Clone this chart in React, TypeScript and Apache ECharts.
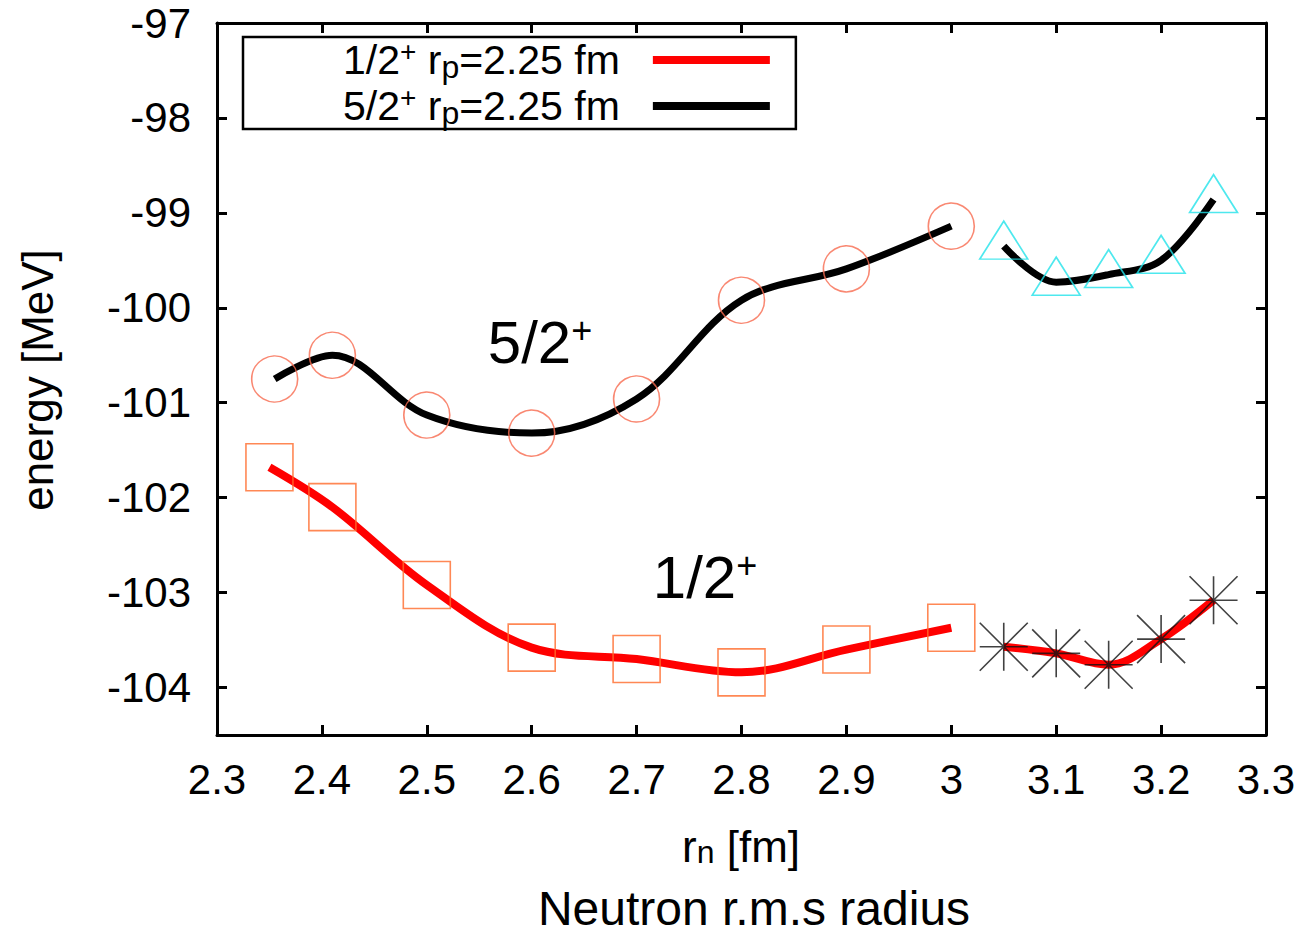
import React, { useEffect, useRef } from "react";
import * as echarts from "echarts";

// ---- data ----
const xTicks = [2.3, 2.4, 2.5, 2.6, 2.7, 2.8, 2.9, 3.0, 3.1, 3.2, 3.3];
const yTicks = [-104, -103, -102, -101, -100, -99, -98, -97];

// 1/2+ : squares (r_n <= 3.0) and asterisks (r_n > 3.0)
const xHalfA = [2.35, 2.41, 2.5, 2.6, 2.7, 2.8, 2.9, 3.0];
const eHalfA = [-101.68, -102.1, -102.92, -103.58, -103.7, -103.84, -103.6, -103.37];
const xHalfB = [3.05, 3.1, 3.15, 3.2, 3.25];
const eHalfB = [-103.57, -103.64, -103.76, -103.49, -103.08];

// 5/2+ : circles (r_n <= 3.0) and triangles (r_n > 3.0)
const xFiveA = [2.355, 2.41, 2.5, 2.6, 2.7, 2.8, 2.9, 3.0];
const eFiveA = [-100.75, -100.5, -101.13, -101.32, -100.96, -99.92, -99.59, -99.14];
const xFiveB = [3.05, 3.1, 3.15, 3.2, 3.25];
const eFiveB = [-99.35, -99.73, -99.65, -99.5, -98.86];

const HALF = "half";
const FIVE = "five";

const FONT = "'Liberation Sans', Arial, Helvetica, sans-serif";

const pairs = (xs: number[], ys: number[]) => xs.map((x, i) => [x, ys[i]]);

const ASTERISK = "path://M0,12L24,12M12,0L12,24M0,0L24,24M24,0L0,24";

export default function App() {
  const ref = useRef<HTMLDivElement>(null);

  useEffect(() => {
    if (!ref.current) return;
    const chart = echarts.init(ref.current, undefined, { renderer: "svg" });

    const axisLine = { show: true, lineStyle: { color: "#000", width: 3 } };
    const tickStyle = { color: "#000", width: 3 };

    const labelRich = {
      n: { fontSize: 41, lineHeight: 46, fontFamily: FONT, color: "#000" },
      sup: { fontSize: 28, lineHeight: 30, fontFamily: FONT, color: "#000", verticalAlign: "top" },
      sub: { fontSize: 32, lineHeight: 34, fontFamily: FONT, color: "#000", verticalAlign: "bottom" },
      end: { fontSize: 41, lineHeight: 46, fontFamily: FONT, color: "#000", padding: [0, 28, 0, 0] },
    };

    const option: any = {
      animation: false,
      grid: { left: 217, right: 42, top: 23, bottom: 198 },
      xAxis: [
        {
          type: "value",
          min: 2.3,
          max: 3.3,
          position: "bottom",
          axisLine,
          axisTick: { show: true, inside: true, length: 10, lineStyle: tickStyle, customValues: xTicks },
          axisLabel: {
            customValues: xTicks,
            formatter: (v: number) => `${parseFloat(v.toFixed(2))}`,
            margin: 23,
            color: "#000",
            fontSize: 42,
            fontFamily: FONT,
          },
          splitLine: { show: false },
        },
        {
          type: "value",
          min: 2.3,
          max: 3.3,
          position: "top",
          axisLine,
          axisTick: { show: true, inside: true, length: 10, lineStyle: tickStyle, customValues: xTicks },
          axisLabel: { show: false },
          splitLine: { show: false },
        },
      ],
      yAxis: [
        {
          type: "value",
          min: -104.5,
          max: -97,
          position: "left",
          axisLine,
          axisTick: { show: true, inside: true, length: 10, lineStyle: tickStyle, customValues: yTicks },
          axisLabel: {
            customValues: yTicks,
            margin: 26,
            color: "#000",
            fontSize: 42,
            fontFamily: FONT,
          },
          splitLine: { show: false },
        },
        {
          type: "value",
          min: -104.5,
          max: -97,
          position: "right",
          axisLine,
          axisTick: { show: true, inside: true, length: 10, lineStyle: tickStyle, customValues: yTicks },
          axisLabel: { show: false },
          splitLine: { show: false },
        },
      ],
      legend: {
        data: [HALF, FIVE],
        orient: "vertical",
        left: 243,
        top: 37,
        align: "right",
        icon: "rect",
        itemWidth: 117,
        itemHeight: 8,
        itemGap: 0,
        padding: [0, 26, 0, 100],
        backgroundColor: "#fff",
        borderColor: "#000",
        borderWidth: 2.5,
        borderRadius: 0,
        selectedMode: false,
        formatter: (name: string) =>
          name === HALF
            ? "{n|1/2}{sup|+}{n| r}{sub|p}{end|=2.25 fm}"
            : "{n|5/2}{sup|+}{n| r}{sub|p}{end|=2.25 fm}",
        textStyle: { fontSize: 41, fontFamily: FONT, color: "#000", lineHeight: 46, rich: labelRich },
      },
      series: [
        {
          name: HALF,
          type: "line",
          data: pairs(xHalfA, eHalfA),
          smooth: 0.35,
          showSymbol: false,
          symbol: "none",
          color: "#ff0000",
          lineStyle: { color: "#ff0000", width: 8 },
          z: 2,
        },
        {
          name: HALF,
          type: "line",
          data: pairs(xHalfB, eHalfB),
          smooth: 0.35,
          showSymbol: false,
          symbol: "none",
          color: "#ff0000",
          lineStyle: { color: "#ff0000", width: 8 },
          z: 2,
        },
        {
          name: FIVE,
          type: "line",
          data: pairs(xFiveA, eFiveA),
          smooth: 0.35,
          showSymbol: false,
          symbol: "none",
          color: "#000",
          lineStyle: { color: "#000", width: 7 },
          z: 2,
        },
        {
          name: FIVE,
          type: "line",
          data: pairs(xFiveB, eFiveB),
          smooth: 0.35,
          showSymbol: false,
          symbol: "none",
          color: "#000",
          lineStyle: { color: "#000", width: 7 },
          z: 2,
        },
        {
          name: "squares",
          type: "scatter",
          data: pairs(xHalfA, eHalfA),
          symbol: "rect",
          symbolSize: 47,
          itemStyle: { color: "rgba(0,0,0,0)", borderColor: "#ff6a2a", borderWidth: 1.6 },
          z: 3,
        },
        {
          name: "asterisks",
          type: "scatter",
          data: pairs(xHalfB, eHalfB),
          symbol: ASTERISK,
          symbolSize: 48,
          itemStyle: { color: "rgba(0,0,0,0)", borderColor: "#111", borderWidth: 1.6 },
          z: 3,
        },
        {
          name: "circles",
          type: "scatter",
          data: pairs(xFiveA, eFiveA),
          symbol: "circle",
          symbolSize: 46,
          itemStyle: { color: "rgba(0,0,0,0)", borderColor: "#f76a4f", borderWidth: 1.6 },
          z: 3,
        },
        {
          name: "triangles",
          type: "scatter",
          data: pairs(xFiveB, eFiveB),
          symbol: "triangle",
          symbolSize: [48, 38],
          symbolOffset: [0, -6],
          itemStyle: { color: "rgba(0,0,0,0)", borderColor: "#22e2ea", borderWidth: 1.6 },
          z: 3,
        },
      ],
      graphic: [
        {
          type: "text",
          x: 37,
          y: 380,
          rotation: Math.PI / 2,
          style: {
            text: "energy [MeV]",
            fontSize: 44,
            fontFamily: FONT,
            fill: "#000",
            align: "center",
            verticalAlign: "middle",
          },
        },
        {
          type: "text",
          x: 741,
          y: 846,
          style: {
            text: "{n|r}{s|n}{n| [fm]}",
            fontFamily: FONT,
            fill: "#000",
            align: "center",
            verticalAlign: "middle",
            rich: {
              n: { fontSize: 44, fontFamily: FONT, fill: "#000" },
              s: { fontSize: 32, fontFamily: FONT, fill: "#000", verticalAlign: "bottom" },
            },
          },
        },
        {
          type: "text",
          x: 754,
          y: 908,
          style: {
            text: "Neutron r.m.s radius",
            fontSize: 48,
            fontFamily: FONT,
            fill: "#000",
            align: "center",
            verticalAlign: "middle",
          },
        },
        {
          type: "text",
          x: 540,
          y: 342,
          style: {
            text: "{n|5/2}{s|+}",
            fontFamily: FONT,
            fill: "#000",
            align: "center",
            verticalAlign: "middle",
            rich: {
              n: { fontSize: 60, fontFamily: FONT, fill: "#000" },
              s: { fontSize: 36, lineHeight: 36, fontFamily: FONT, fill: "#000", verticalAlign: "top" },
            },
          },
        },
        {
          type: "text",
          x: 705,
          y: 577,
          style: {
            text: "{n|1/2}{s|+}",
            fontFamily: FONT,
            fill: "#000",
            align: "center",
            verticalAlign: "middle",
            rich: {
              n: { fontSize: 60, fontFamily: FONT, fill: "#000" },
              s: { fontSize: 36, lineHeight: 36, fontFamily: FONT, fill: "#000", verticalAlign: "top" },
            },
          },
        },
      ],
    };

    chart.setOption(option);
    return () => chart.dispose();
  }, []);

  return (
    <div
      ref={ref}
      style={{ position: "absolute", left: 0, top: 0, width: 1308, height: 933, background: "#fff" }}
    />
  );
}
